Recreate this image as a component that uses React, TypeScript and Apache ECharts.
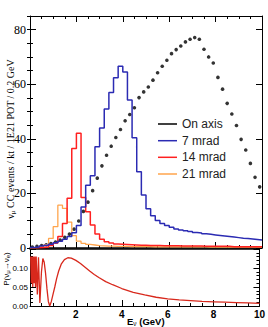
import React, { useEffect, useRef } from 'react';
import * as echarts from 'echarts';

// Histogram bin width (GeV); bins run 0..10 GeV
const binWidth = 0.2;

// On-axis flux (black dots), value at each bin centre
const onAxis = [0.3, 0.6, 0.9, 1.2, 1.6, 2.2, 2.9, 3.9, 5.1, 6.9, 9.9, 13.4, 16.8, 21.0, 25.6, 30.1, 34.0, 37.3, 40.5, 43.4,
  46.6, 48.9, 51.4, 55.1, 57.2, 59.0, 61.5, 64.2, 66.6, 68.8, 71.2, 72.7, 74.0, 75.5, 76.5, 77.1, 76.5, 72.8, 70.0, 67.8,
  62.5, 58.2, 53.0, 49.1, 44.9, 39.8, 35.9, 31.0, 25.9, 22.4];

// 7 mrad (blue) per bin
const mrad7 = [0.2, 0.4, 0.7, 1.0, 1.4, 1.9, 2.5, 3.2, 4.2, 5.6, 8.2, 15.0, 23.0, 26.5, 37.1, 44.0, 50.9, 57.0, 62.4, 66.6,
  64.5, 54.2, 40.4, 27.9, 19.4, 14.4, 11.8, 10.1, 9.0, 8.2, 7.6, 7.0, 6.6, 6.3, 6.0, 5.7, 5.5, 5.2, 5.0, 4.8,
  4.6, 4.4, 4.2, 4.0, 3.8, 3.6, 3.5, 3.3, 3.1, 2.9];

// 14 mrad (red) per bin
const mrad14 = [0.05, 0.1, 0.2, 0.4, 0.9, 1.8, 4.2, 9.0, 18.2, 36.5, 42.0, 18.5, 13.3, 8.4, 5.1, 3.2, 2.3, 1.8, 1.5, 1.4,
  1.3, 1.2, 1.1, 1.0, 1.0, 0.9, 0.9, 0.9, 0.8, 0.8, 0.8, 0.8, 0.7, 0.7, 0.7, 0.7, 0.7, 0.6, 0.6, 0.6,
  0.6, 0.6, 0.6, 0.5, 0.5, 0.5, 0.5, 0.5, 0.5, 0.5];

// 21 mrad (orange) per bin
const mrad21 = [0.05, 0.2, 0.5, 1.2, 3.5, 7.8, 15.7, 14.5, 9.5, 4.5, 2.5, 1.7, 1.3, 1.1, 0.9, 0.8, 0.7, 0.7, 0.6, 0.6,
  0.6, 0.5, 0.5, 0.5, 0.5, 0.5, 0.4, 0.4, 0.4, 0.4, 0.4, 0.4, 0.4, 0.4, 0.4, 0.4, 0.4, 0.4, 0.3, 0.3,
  0.3, 0.3, 0.3, 0.3, 0.3, 0.3, 0.3, 0.3, 0.3, 0.3];

// Oscillation probability curve (lower panel)
const probE = [0.03, 0.06, 0.09, 0.12, 0.15, 0.18, 0.21, 0.24, 0.27, 0.32, 0.37, 0.43, 0.50, 0.56, 0.62, 0.68, 0.74, 0.80,
  0.86, 0.93, 1.0, 1.08, 1.16, 1.25, 1.36, 1.5, 1.65, 1.8, 2.0, 2.2, 2.4, 2.6, 2.8, 3.0, 3.3, 3.6, 4.0, 4.5,
  5.0, 5.5, 6.0, 6.5, 7.0, 7.5, 8.0, 8.5, 9.0, 9.5, 10.0];
const probP = [0.13, 0.06, 0.13, 0.05, 0.13, 0.06, 0.13, 0.05, 0.13, 0.03, 0.128, 0.008, 0.09, 0.125, 0.115, 0.085, 0.045, 0.012,
  0.0, 0.012, 0.03, 0.05, 0.072, 0.092, 0.11, 0.122, 0.127, 0.126, 0.12, 0.112, 0.102, 0.092, 0.083, 0.075, 0.064, 0.056, 0.046, 0.036,
  0.029, 0.023, 0.019, 0.016, 0.014, 0.012, 0.011, 0.010, 0.009, 0.008, 0.007];

const legendNames = ['On axis', '7 mrad', '14 mrad', '21 mrad'];
const legendColors = ['#000000', '#2b2bb3', '#ff2020', '#ffa54d'];

function histData(vals: number[]) {
  const d = vals.map((v, i) => [Math.round(i * binWidth * 100) / 100, v]);
  d.push([Math.round(vals.length * binWidth * 100) / 100, vals[vals.length - 1]]);
  return d;
}

const SANS = 'Liberation Sans, Arial, sans-serif';
const SERIF = 'Liberation Serif, Times New Roman, serif';

function xAxisDef(gridIndex: number, position: string, extra: any = {}) {
  return {
    type: 'value', gridIndex, position, min: 0, max: 10, interval: 2,
    axisLine: { show: true, onZero: false, lineStyle: { color: '#000', width: 1 } },
    axisTick: { show: true, inside: true, length: 6, lineStyle: { color: '#000' } },
    minorTick: { show: true, splitNumber: 4, length: 3, lineStyle: { color: '#000' } },
    axisLabel: { show: false },
    splitLine: { show: false },
    minorSplitLine: { show: false },
    ...extra,
  };
}

function yAxisDef(gridIndex: number, position: string, min: number, max: number, interval: number, tickLen: number, extra: any = {}) {
  return {
    type: 'value', gridIndex, position, min, max, interval,
    axisLine: { show: true, onZero: false, lineStyle: { color: '#000', width: 1 } },
    axisTick: { show: true, inside: true, length: tickLen, lineStyle: { color: '#000' } },
    axisLabel: { show: false },
    splitLine: { show: false },
    ...extra,
  };
}

export default function App() {
  const ref = useRef<HTMLDivElement>(null);
  useEffect(() => {
    const chart = echarts.init(ref.current!, null, { renderer: 'svg' });
    const legendY = [124, 140.7, 157.3, 174];
    const legendGraphics: any[] = [];
    legendNames.forEach((name, i) => {
      legendGraphics.push({
        type: 'line', shape: { x1: 158, y1: legendY[i], x2: 177, y2: legendY[i] },
        style: { stroke: legendColors[i], lineWidth: 1.5 },
      });
      legendGraphics.push({
        type: 'text', x: 182, y: legendY[i],
        style: { text: name, fontSize: 12, fontFamily: SANS, fill: '#222', textVerticalAlign: 'middle', textAlign: 'left' },
      });
    });

    const option: any = {
      animation: false,
      backgroundColor: '#fff',
      grid: [
        { left: 30, top: 16, width: 232, height: 232 },
        { left: 30, top: 249, width: 232, height: 57 },
      ],
      xAxis: [
        xAxisDef(0, 'bottom', { axisLine: { show: true, onZero: false, lineStyle: { color: '#000', width: 1.5 } } }),
        xAxisDef(0, 'top'),
        xAxisDef(1, 'bottom', {
          axisLabel: {
            show: true, fontSize: 10, fontWeight: 'bold', fontFamily: SANS, color: '#000', margin: 3,
            formatter: (v: number) => (v === 0 ? '' : String(v)),
          },
        }),
        xAxisDef(1, 'top', {
          axisTick: { show: false }, minorTick: { show: false },
          axisLine: { show: true, onZero: false, lineStyle: { color: '#000', width: 1.5 } },
        }),
      ],
      yAxis: [
        yAxisDef(0, 'left', 0, 85, 20, 6, {
          axisLabel: {
            show: true, fontSize: 12, fontFamily: SERIF, color: '#000', margin: 4,
            formatter: (v: number) => (v % 20 === 0 ? String(v) : ''),
          },
        }),
        yAxisDef(0, 'left', 0, 85, 5, 3, { axisLine: { show: false } }),
        yAxisDef(0, 'right', 0, 85, 20, 6),
        yAxisDef(0, 'right', 0, 85, 5, 3, { axisLine: { show: false } }),
        yAxisDef(1, 'left', 0, 0.15, 0.05, 6, {
          minorTick: { show: true, splitNumber: 5, length: 3, lineStyle: { color: '#000' } },
          axisLabel: {
            show: true, fontSize: 8, fontFamily: SANS, color: '#000', margin: 2,
            formatter: (v: number) => (v > 0.14 ? '' : v.toFixed(2)),
          },
        }),
        yAxisDef(1, 'right', 0, 0.15, 0.05, 6, {
          minorTick: { show: true, splitNumber: 5, length: 3, lineStyle: { color: '#000' } },
        }),
      ],
      series: [
        {
          name: '21 mrad', type: 'line', step: 'end', xAxisIndex: 0, yAxisIndex: 0, data: histData(mrad21),
          symbol: 'none', lineStyle: { color: legendColors[3], width: 1.3 },
        },
        {
          name: '14 mrad', type: 'line', step: 'end', xAxisIndex: 0, yAxisIndex: 0, data: histData(mrad14),
          symbol: 'none', lineStyle: { color: legendColors[2], width: 1.5 },
        },
        {
          name: '7 mrad', type: 'line', step: 'end', xAxisIndex: 0, yAxisIndex: 0, data: histData(mrad7),
          symbol: 'none', lineStyle: { color: legendColors[1], width: 1.5 },
        },
        {
          name: 'On axis', type: 'scatter', xAxisIndex: 0, yAxisIndex: 0,
          data: onAxis.map((v, i) => [Math.round((i * binWidth + binWidth / 2) * 100) / 100, v]),
          symbolSize: 3.6, itemStyle: { color: '#000' },
        },
        {
          name: 'P', type: 'line', xAxisIndex: 2, yAxisIndex: 4,
          data: probE.map((e, i) => [e, probP[i]]),
          symbol: 'none', lineStyle: { color: '#d8281c', width: 1.3 },
        },
      ],
      graphic: [
        ...legendGraphics,
        {
          type: 'text', x: 10, y: 139, rotation: Math.PI / 2,
          style: {
            text: '{n|ν}{s|μ}{n| CC events / kt / 1E21 POT / 0.2 GeV}',
            textAlign: 'center', textVerticalAlign: 'middle', fill: '#000',
            rich: {
              n: { fontSize: 10, fontFamily: SERIF, fill: '#000', lineHeight: 12 },
              s: { fontSize: 7, fontFamily: SERIF, fill: '#000', verticalAlign: 'bottom', lineHeight: 12, padding: [3, 0, 0, 0] },
            },
          },
        },
        {
          type: 'text', x: 6, y: 269, rotation: Math.PI / 2,
          style: {
            text: '{n|P(ν}{s|μ}{n|→ν}{s|e}{n|)}',
            textAlign: 'center', textVerticalAlign: 'middle', fill: '#000',
            rich: {
              n: { fontSize: 8, fontFamily: SANS, fill: '#000', lineHeight: 10 },
              s: { fontSize: 6, fontFamily: SANS, fill: '#000', verticalAlign: 'bottom', lineHeight: 10, padding: [3, 0, 0, 0] },
            },
          },
        },
        {
          type: 'text', x: 127, y: 321,
          style: {
            text: '{n|E}{s|ν}{n| (GeV)}',
            textAlign: 'left', textVerticalAlign: 'middle', fill: '#000',
            rich: {
              n: { fontSize: 9.5, fontWeight: 'bold', fontFamily: SANS, fill: '#000', lineHeight: 11 },
              s: { fontSize: 6.5, fontFamily: SANS, fill: '#000', verticalAlign: 'bottom', lineHeight: 11, padding: [3, 0, 0, 0] },
            },
          },
        },
      ],
    };
    chart.setOption(option);
    return () => chart.dispose();
  }, []);
  return (
    <div
      ref={ref}
      style={{ position: 'fixed', left: 0, top: 0, width: 268, height: 327, background: '#fff' }}
    />
  );
}
